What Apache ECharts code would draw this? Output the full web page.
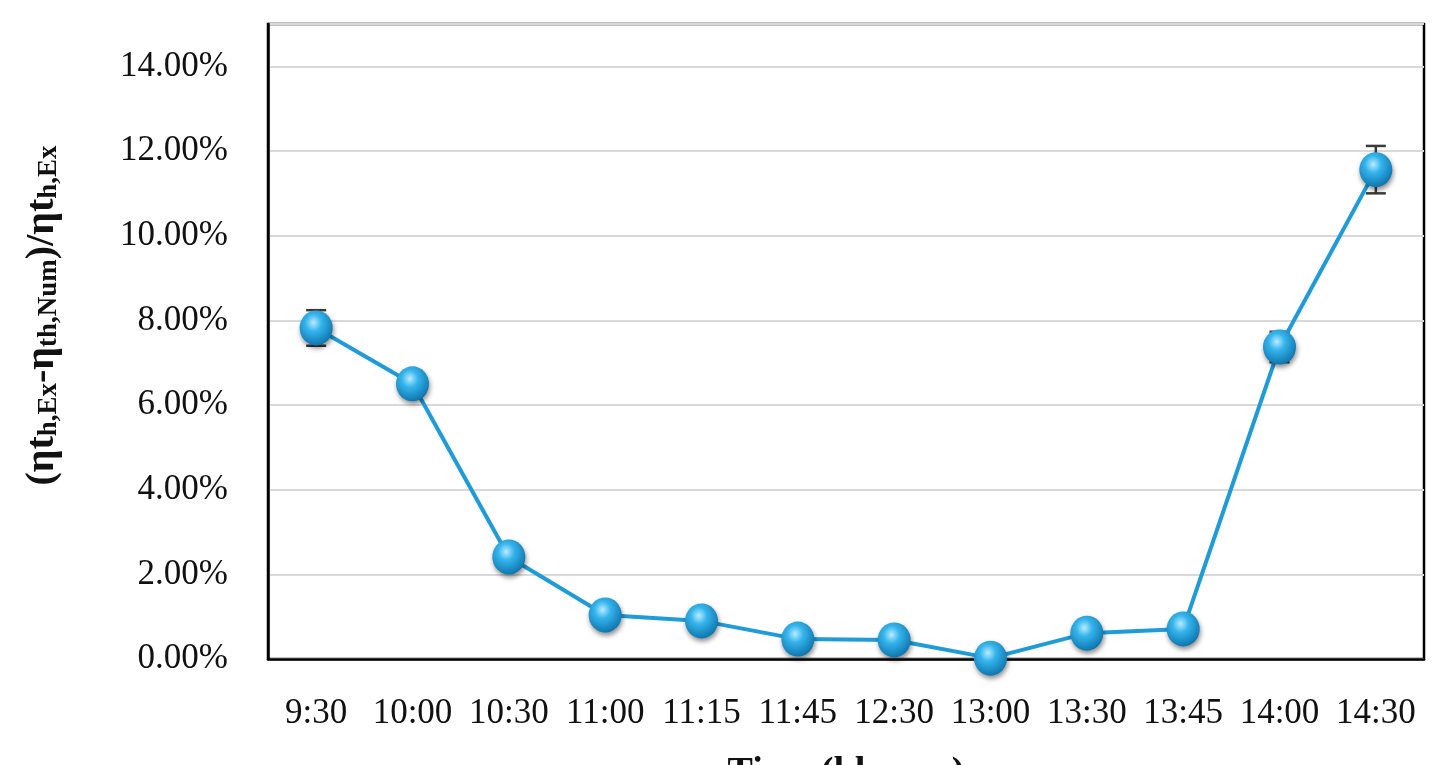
<!DOCTYPE html>
<html>
<head>
<meta charset="utf-8">
<script src="https://cdn.jsdelivr.net/npm/echarts@6/dist/echarts.min.js"></script>
<style>
  html, body { margin: 0; padding: 0; background: #fff; overflow: hidden; }
  #chart { width: 1449px; height: 765px; }
</style>
</head>
<body>
<div id="chart"></div>
<script>
// 时间点
var times = ['9:30', '10:00', '10:30', '11:00', '11:15', '11:45', '12:30', '13:00', '13:30', '13:45', '14:00', '14:30'];
// 相对误差 (%)
var relErr = [7.82, 6.50, 2.41, 1.04, 0.90, 0.47, 0.45, 0.02, 0.61, 0.71, 7.37, 11.56];
// 误差棒 (±%)
var errBar = [0.42, 0.30, 0.10, 0.08, 0.08, 0.06, 0.06, 0.05, 0.08, 0.08, 0.36, 0.56];
var yTicks = [0, 2, 4, 6, 8, 10, 12, 14];

var serif = '"Liberation Serif", "DejaVu Serif", serif';

var errData = times.map(function (t, i) {
  return [i, relErr[i] - errBar[i], relErr[i] + errBar[i]];
});

var myChart = echarts.init(document.getElementById('chart'));
var option = {
  backgroundColor: '#fff',
  animation: false,
  grid: {
    left: 268, right: 25, top: 24, bottom: 106,
    containLabel: false,
    outerBoundsMode: 'none',
    show: true, borderColor: '#000', borderWidth: 2.5
  },
  xAxis: {
    type: 'category',
    data: times,
    boundaryGap: true,
    axisLine: { lineStyle: { color: '#000', width: 2.5 } },
    axisTick: { show: false },
    axisLabel: { fontFamily: serif, fontSize: 35, color: '#111', margin: 37, interval: 0, hideOverlap: false },
    name: 'Time (hh:mm)',
    nameLocation: 'middle',
    nameGap: 95,
    nameTextStyle: { fontFamily: serif, fontSize: 38, fontWeight: 'bold', color: '#111', verticalAlign: 'top' }
  },
  yAxis: {
    type: 'value',
    min: 0,
    max: 15,
    interval: 2,
    axisLine: { show: true, lineStyle: { color: '#000', width: 2.5 } },
    axisTick: { show: false },
    splitLine: { lineStyle: { color: '#d9d9d9', width: 2 } },
    axisLabel: {
      fontFamily: serif, fontSize: 35, color: '#111', margin: 40,
      showMaxLabel: false,
      formatter: function (v) { return yTicks.indexOf(v) >= 0 ? v.toFixed(2) + '%' : ''; }
    },
    name: '{b|(ηt}{s|h,Ex}{b|-η}{s|th,Num}{b|)/ηt}{s|h,Ex}',
    nameLocation: 'middle',
    nameGap: 205,
    nameTextStyle: {
      padding: [0, 0, 0, 52],
      rich: {
        b: { fontFamily: serif, fontSize: 40, fontWeight: 'bold', color: '#111', verticalAlign: 'bottom', lineHeight: 46 },
        s: { fontFamily: serif, fontSize: 27, fontWeight: 'bold', color: '#111', verticalAlign: 'bottom', lineHeight: 36 }
      }
    }
  },
  series: [
    {
      type: 'line',
      data: relErr,
      z: 3,
      symbol: 'circle',
      symbolSize: [33, 35],
      lineStyle: { color: '#1f9bd7', width: 4 },
      itemStyle: {
        color: {
          type: 'radial', x: 0.42, y: 0.35, r: 0.7,
          colorStops: [
            { offset: 0, color: '#b8ecff' },
            { offset: 0.35, color: '#35b4ec' },
            { offset: 1, color: '#0a6fa8' }
          ]
        },
        shadowBlur: 5,
        shadowColor: 'rgba(0,0,0,0.45)',
        shadowOffsetX: 1,
        shadowOffsetY: 3
      }
    },
    {
      type: 'custom',
      z: 2,
      data: errData,
      renderItem: function (params, api) {
        var x = api.coord([api.value(0), 0])[0];
        var lo = api.coord([api.value(0), api.value(1)])[1];
        var hi = api.coord([api.value(0), api.value(2)])[1];
        var w = 10;
        var st = { stroke: '#3a3a3a', lineWidth: 2.5 };
        return {
          type: 'group',
          children: [
            { type: 'line', shape: { x1: x, y1: lo, x2: x, y2: hi }, style: st },
            { type: 'line', shape: { x1: x - w, y1: hi, x2: x + w, y2: hi }, style: st },
            { type: 'line', shape: { x1: x - w, y1: lo, x2: x + w, y2: lo }, style: st }
          ]
        };
      }
    }
  ]
};
myChart.setOption(option);
</script>
</body>
</html>
